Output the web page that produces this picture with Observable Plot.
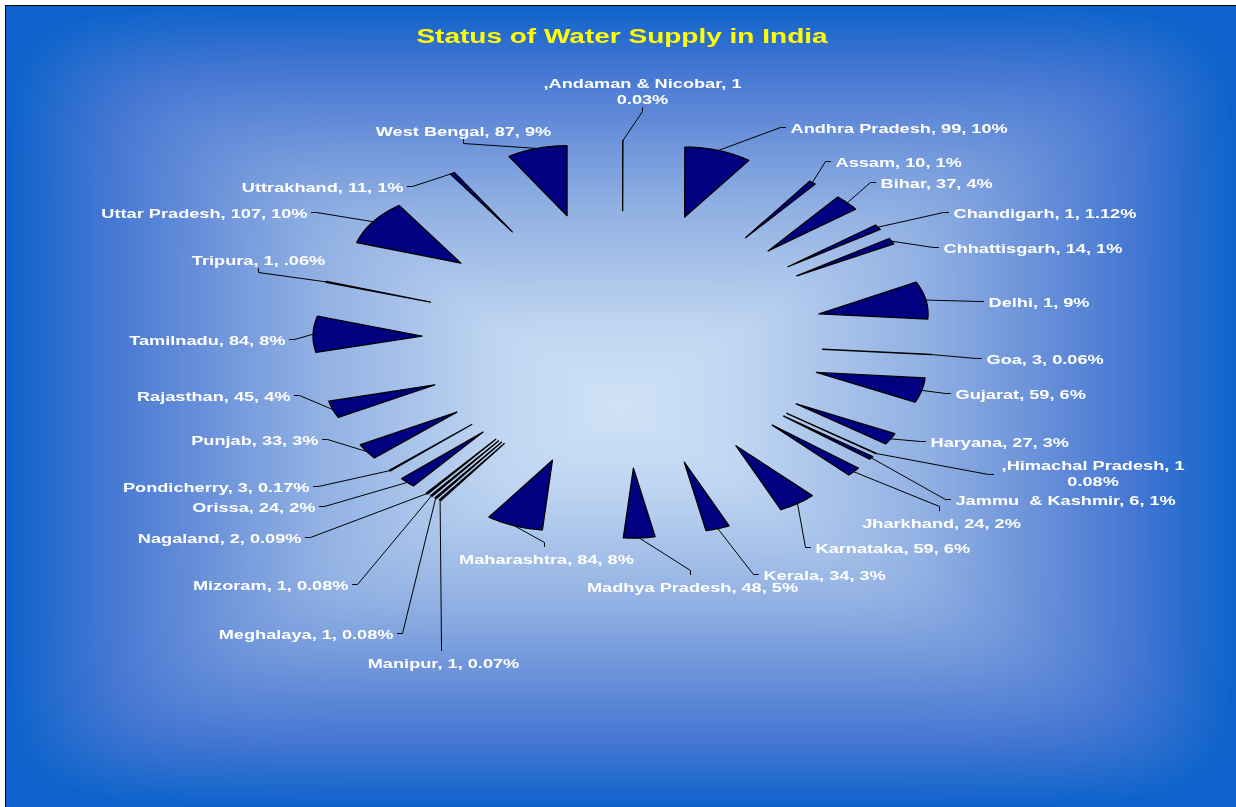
<!DOCTYPE html>
<html>
<head>
<meta charset="utf-8">
<script src="https://cdn.jsdelivr.net/npm/d3@7"></script>
<script src="https://cdn.jsdelivr.net/npm/@observablehq/plot@0.6"></script>
<style>
  html, body { margin: 0; padding: 0; background: #ffffff; overflow: hidden; }
  #wrap { position: relative; width: 1236px; height: 807px; }
  #bg, #chart svg { position: absolute; left: 0; top: 0; }
  #frame { position: absolute; left: 5px; top: 5px; width: 1240px; height: 810px; border-left: 1.6px solid #000; border-top: 1.2px solid #000; box-sizing: border-box; }
  #title {
    position: absolute; left: 622px; top: 36px;
    transform: translate(-50%, -50%) scaleX(1.4);
    font: bold 20px "Liberation Sans", Arial, sans-serif;
    color: #ffff00; white-space: nowrap;
  }
</style>
</head>
<body>
<div id="wrap">
  <canvas id="bg" width="1236" height="807"></canvas>
  <div id="frame"></div>
  <div id="chart"></div>
  <div id="title">Status of Water Supply in India</div>
</div>
<script>
// ---------------- DATA ----------------
const states = ["Andaman & Nicobar","Andhra Pradesh","Assam","Bihar","Chandigarh","Chhattisgarh","Delhi","Goa","Gujarat","Haryana","Himachal Pradesh","Jammu  & Kashmir","Jharkhand","Karnataka","Kerala","Madhya Pradesh","Maharashtra","Manipur","Meghalaya","Mizoram","Nagaland","Orissa","Pondicherry","Punjab","Rajasthan","Tamilnadu","Tripura","Uttar Pradesh","Uttrakhand","West Bengal"];
const values = [1,99,10,37,1,14,1,3,59,27,1,6,24,59,34,48,84,1,1,1,2,24,3,33,45,84,1,107,11,87];
const percentLabels = ["0.03%","10%","1%","4%","1.12%","1%","9%","0.06%","6%","3%","0.08%","1%","2%","6%","3%","5%","8%","0.07%","0.08%","0.08%","0.09%","2%","0.17%","3%","4%","8%",".06%","10%","1%","9%"];
// share of the circle of each slice, as read from the drawn wedges (percent)
const sliceShare = [0.03,9.97,1.03,3.81,1.22,1.42,8.69,0.08,5.75,2.67,0.11,0.75,2.11,5.61,3.56,4.67,8.42,0.28,0.28,0.28,0.31,2.39,0.22,3.64,3.97,8.33,0.19,10.64,0.67,8.92];
const wrappedLabels = ["Andaman & Nicobar","Himachal Pradesh"];

// ---------------- LAYOUT ----------------
const W = 1236, H = 807;
const CX = 622, CY = 339;        // pie centre (px)
const KX = 109, KY = 70;         // px per pie-radius unit (stretched horizontally)
const EXPLODE = 1.84;            // explosion distance in radius units
const TEXT_STRETCH = 1.4;
// leader end points of the data labels (px) and label side
const labelAnchorPx = [[642,107],[785,127],[830,161],[875,182],[948,212],[938,247],[983,301],[981,358],[950,393],[925,441],[993,474],[950,499],[939,510],[810,547],[758,574],[690,574],[544,546],[441,650],[397,633],[352,584],[305,537],[319,506],[313,486],[322,439],[294,395],[289,339],[258,268],[311,212],[407,186],[463,139]];
const labelSide = ["a","r","r","r","r","r","r","r","r","r","rc","r","b","r","r","b","b","b","l","l","l","l","l","l","l","l","a","l","l","a"];

const ux = px => (px - CX) / KX;
const uy = py => (CY - py) / KY;

// ---------------- BACKGROUND (rectangular "from centre" gradient) ----------------
(function drawBg() {
  const cv = document.getElementById("bg"), ctx = cv.getContext("2d");
  const X0 = 6, Y0 = 5, X1 = 1236, Y1 = 807;
  const gx = (X0 + X1) / 2, gy = (Y0 + Y1) / 2, hw = (X1 - X0) / 2, hh = (Y1 - Y0) / 2;
  const stops = [[0,"#cfe2f6"],[0.2,"#bfd5f1"],[0.5,"#90b0e3"],[0.68,"#6990d9"],[0.85,"#4175d2"],[1,"#0d63cb"]];
  const interp = d3.scaleLinear().domain(stops.map(s => s[0])).range(stops.map(s => s[1])).interpolate(d3.interpolateRgb).clamp(true);
  const lut = d3.range(1001).map(k => d3.rgb(interp(k / 1000)));
  const img = ctx.createImageData(W, H);
  const P = 10;
  for (let y = 0; y < H; y++) {
    for (let x = 0; x < W; x++) {
      const o = (y * W + x) * 4;
      if (x < X0 || y < Y0) { img.data[o] = img.data[o+1] = img.data[o+2] = 255; img.data[o+3] = 255; continue; }
      const ax = Math.abs(x + 0.5 - gx) / hw, ay = Math.abs(y + 0.5 - gy) / hh;
      const t = Math.pow(Math.pow(ax, P) + Math.pow(ay, P), 1 / P);
      const c = lut[Math.min(1000, Math.round(t * 1000))];
      img.data[o] = c.r; img.data[o+1] = c.g; img.data[o+2] = c.b; img.data[o+3] = 255;
    }
  }
  ctx.putImageData(img, 0, 0);
})();

// ---------------- SLICES ----------------
const total = d3.sum(sliceShare);
let acc = 0;
const slices = states.map((s, i) => {
  const a0 = acc / total * 2 * Math.PI; acc += sliceShare[i];
  const a1 = acc / total * 2 * Math.PI;
  return {state: s, i, a0, a1, mid: (a0 + a1) / 2};
});

const wedgePts = slices.flatMap(sl => {
  const ax = EXPLODE * Math.sin(sl.mid), ay = EXPLODE * Math.cos(sl.mid);
  const n = Math.max(2, Math.ceil((sl.a1 - sl.a0) / (Math.PI / 180)));
  const pts = [{state: sl.state, x: ax, y: ay}];
  for (let k = 0; k <= n; k++) {
    const a = sl.a0 + (sl.a1 - sl.a0) * k / n;
    pts.push({state: sl.state, x: ax + Math.sin(a), y: ay + Math.cos(a)});
  }
  return pts;
});

// ---------------- LABELS ----------------
const labels = slices.map(sl => {
  const i = sl.i;
  const [ex, ey] = labelAnchorPx[i];
  const side = labelSide[i];
  const text = wrappedLabels.includes(sl.state)
    ? `,${sl.state}, ${values[i]}\n${percentLabels[i]}`
    : `${sl.state}, ${values[i]}, ${percentLabels[i]}`;
  let sx = ex, sy = ey, tx = ex, ty = ey;
  if (side === "r") { sx = ex - 5; tx = ex + 5; }
  else if (side === "rc") { sx = ex - 5; tx = ex; ty = ey - 2; }
  else if (side === "l") { sx = ex + 5; tx = ex - 4; }
  else if (side === "a") { sy = ey + 4; ty = ey - 4; }
  else if (side === "b") { sy = ey - 4; tx = ex + 2; ty = ey + 12; }
  const r = EXPLODE + 1;
  return {state: sl.state, side, text,
    leader: [
      {state: sl.state, x: r * Math.sin(sl.mid), y: r * Math.cos(sl.mid)},
      {state: sl.state, x: ux(sx), y: uy(sy)},
      {state: sl.state, x: ux(ex), y: uy(ey)}
    ],
    tx: ux(tx), ty: uy(ty)};
});
const leaderPts = labels.flatMap(d => d.leader);

const textCommon = {x: "tx", y: "ty", text: "text", fill: "white", fontSize: 13, fontWeight: "bold",
  fontFamily: "Liberation Sans, Arial, sans-serif", lineHeight: 1.23};

const plot = Plot.plot({
  width: W, height: H, margin: 0,
  style: {background: "none", overflow: "visible"},
  x: {domain: [ux(0), ux(W)], axis: null},
  y: {domain: [uy(H), uy(0)], axis: null},
  marks: [
    Plot.line(leaderPts, {x: "x", y: "y", z: "state", stroke: "#000", strokeWidth: 1, strokeLinejoin: "miter"}),
    Plot.line(wedgePts, {x: "x", y: "y", z: "state", fill: "#000080", stroke: "#000", strokeWidth: 1.3, curve: "linear-closed"}),
    Plot.text(labels.filter(d => d.side === "r"), {...textCommon, textAnchor: "start"}),
    Plot.text(labels.filter(d => d.side === "l"), {...textCommon, textAnchor: "end"}),
    Plot.text(labels.filter(d => d.side === "b"), {...textCommon, textAnchor: "middle"}),
    Plot.text(labels.filter(d => d.side === "a"), {...textCommon, textAnchor: "middle", lineAnchor: "bottom"}),
    Plot.text(labels.filter(d => d.side === "rc"), {...textCommon, textAnchor: "middle"})
  ]
});
document.getElementById("chart").appendChild(plot);

// stretch label glyphs horizontally like the reference (positions are kept by the existing translate)
plot.querySelectorAll("text").forEach(t => {
  const base = t.getAttribute("transform") || "";
  let extra = "";
  if (t.textContent.startsWith(",Himachal")) {
    const w = t.getBBox().width;
    extra = ` translate(${8 + TEXT_STRETCH * w / 2},0)`;
  }
  t.setAttribute("transform", `${base}${extra} scale(${TEXT_STRETCH},1)`);
});
</script>
</body>
</html>
